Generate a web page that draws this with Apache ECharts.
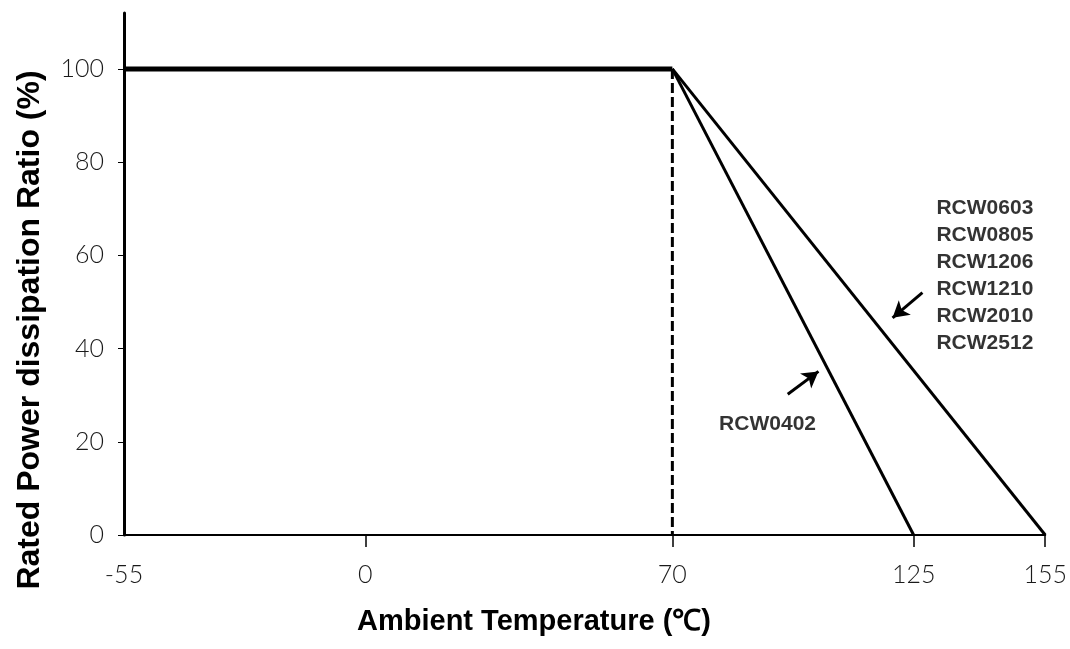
<!DOCTYPE html>
<html>
<head>
<meta charset="utf-8">
<script src="https://cdn.jsdelivr.net/npm/echarts@6/dist/echarts.min.js"></script>
<style>
html,body{margin:0;padding:0;background:#fff;}
#chart{width:1070px;height:649px;}
</style>
</head>
<body>
<div id="chart"></div>
<script>
// ---- data ----
const tempTicks = [-55, 0, 70, 125, 155];
const ratioTicks = [0, 20, 40, 60, 80, 100];
const fullPowerSegment = [[-55, 100], [70, 100]];
const deratingGroup = [[70, 100], [155, 0]];      // RCW0603 ... RCW2512
const derating0402 = [[70, 100], [125, 0]];       // RCW0402
const kneeGuide = [[70, 100], [70, 0]];
const groupNames = ['RCW0603', 'RCW0805', 'RCW1206', 'RCW1210', 'RCW2010', 'RCW2512'];
const singleName = 'RCW0402';
// annotation anchors (data units)
const groupLabelAnchor = [130.2, 55.6];
const singleLabelAnchor = [91.7, 23.8];
const groupArrow = [[127, 52.0], [120.2, 46.6]];
const singleArrow = [[96.3, 30.2], [103.3, 35.1]];

const chart = echarts.init(document.getElementById('chart'), null, {renderer: 'canvas'});

const labelFont = {fontFamily: 'Lato', fontWeight: 300, color: '#1a1a1a', fontSize: 25};
const annFont = {fontFamily: 'Liberation Sans, Arial, sans-serif', fontWeight: 'bold', color: '#000', fontSize: 21};

const option = {
  animation: false,
  backgroundColor: '#fff',
  grid: {left: 124, right: 24, top: 13, bottom: 114, containLabel: false},
  xAxis: {
    type: 'value', min: -55, max: 155,
    splitLine: {show: false},
    axisLine: {show: true, onZero: false, lineStyle: {color: '#000', width: 2}},
    axisTick: {show: true, customValues: tempTicks.slice(1), length: 12, lineStyle: {color: '#000', width: 1.5}},
    axisLabel: Object.assign({customValues: tempTicks, margin: 27}, labelFont)
  },
  yAxis: {
    type: 'value', min: 0, max: 112,
    splitLine: {show: false},
    axisLine: {show: true, onZero: false, lineStyle: {color: '#000', width: 3}},
    axisTick: {show: true, customValues: ratioTicks, length: 6, lineStyle: {color: '#000', width: 1}},
    axisLabel: Object.assign({customValues: ratioTicks, margin: 20}, labelFont)
  },
  series: [
    {type: 'line', data: fullPowerSegment, symbol: 'none', lineStyle: {color: '#000', width: 5}, silent: true},
    {type: 'line', data: deratingGroup, symbol: 'none', lineStyle: {color: '#000', width: 3}, silent: true},
    {type: 'line', data: derating0402, symbol: 'none', lineStyle: {color: '#000', width: 3}, silent: true},
    {type: 'line', data: kneeGuide, symbol: 'none', lineStyle: {color: '#000', width: 3, type: [10, 4]}, silent: true},
    {
      type: 'scatter', data: [groupLabelAnchor], symbolSize: 0, silent: true,
      label: Object.assign({show: true, position: 'inside', align: 'left', verticalAlign: 'middle',
        lineHeight: 27, formatter: groupNames.join('\n')}, annFont)
    },
    {
      type: 'scatter', data: [singleLabelAnchor], symbolSize: 0, silent: true,
      label: Object.assign({show: true, position: 'inside', align: 'center', verticalAlign: 'middle',
        formatter: singleName}, annFont)
    },
    {
      type: 'line', data: [], silent: true,
      markLine: {
        silent: true, animation: false,
        symbol: ['none', 'arrow'], symbolSize: [14, 16],
        label: {show: false},
        lineStyle: {color: '#000', width: 3, type: 'solid'},
        data: [
          [{coord: groupArrow[0]}, {coord: groupArrow[1]}],
          [{coord: singleArrow[0]}, {coord: singleArrow[1]}]
        ]
      }
    }
  ],
  graphic: [
    {type: 'text', x: 534, y: 622, silent: true,
     style: {text: 'Ambient Temperature (℃)', font: 'bold 29px "Liberation Sans", Arial, sans-serif', fill: '#000', align: 'center', verticalAlign: 'middle'}},
    {type: 'text', x: 30, y: 330, rotation: Math.PI / 2, silent: true,
     style: {text: 'Rated Power dissipation Ratio (%)', font: 'bold 32px "Liberation Sans", Arial, sans-serif', fill: '#000', align: 'center', verticalAlign: 'middle'}}
  ]
};
chart.setOption(option);
</script>
</body>
</html>
